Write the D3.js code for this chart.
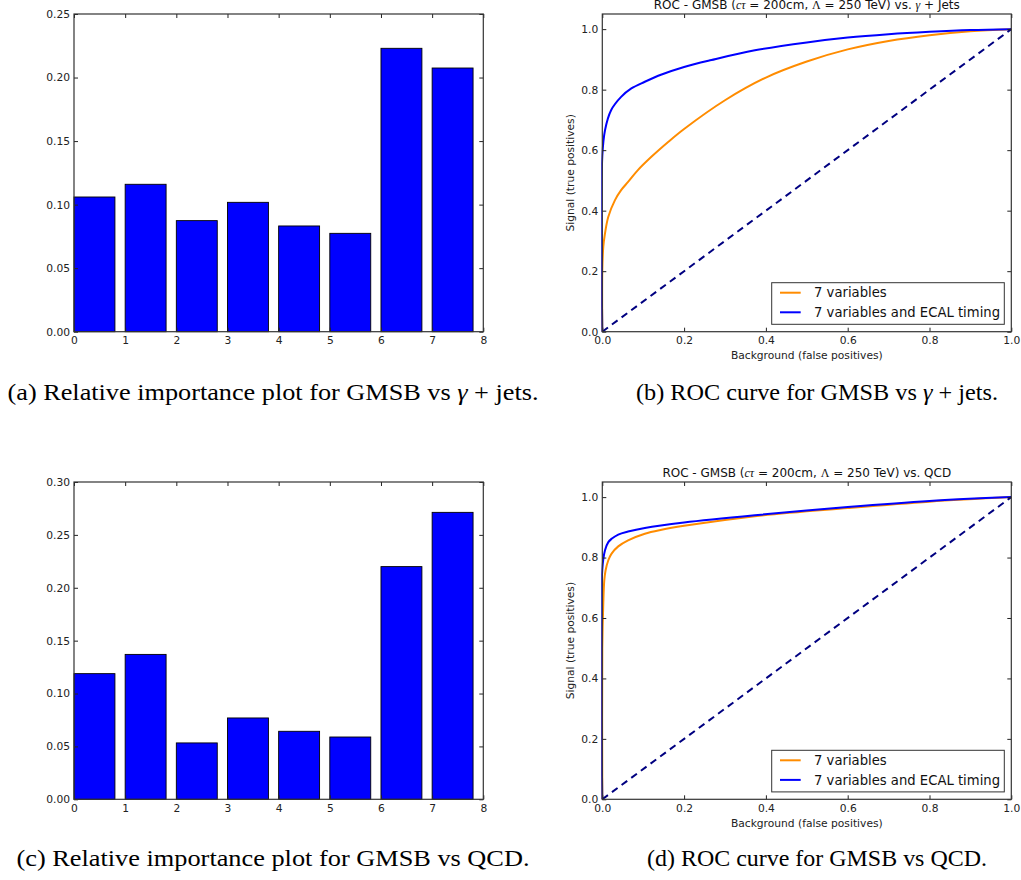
<!DOCTYPE html>
<html><head><meta charset="utf-8">
<script src="https://cdn.jsdelivr.net/npm/d3@7"></script>
<style>body{margin:0;background:#fff} svg{display:block}</style>
</head><body>
<script>
// ---------------- data ----------------
const barCategories = [0, 1, 2, 3, 4, 5, 6, 7];
const importanceGammaJets = [0.106, 0.116, 0.0874, 0.1018, 0.0832, 0.0774, 0.223, 0.2075];
const importanceQCD = [0.1188, 0.137, 0.0533, 0.0769, 0.0643, 0.0589, 0.220, 0.2713];
const barXTicks = [0, 1, 2, 3, 4, 5, 6, 7, 8];
const barYTicksA = [0, 0.05, 0.10, 0.15, 0.20, 0.25];
const barYTicksC = [0, 0.05, 0.10, 0.15, 0.20, 0.25, 0.30];
const rocTicks = [0, 0.2, 0.4, 0.6, 0.8, 1.0];

// ROC gamma + jets, 7 variables
const gjVarFpr = [0, 0, 0.0024, 0.0066, 0.0147, 0.031, 0.046, 0.063, 0.087, 0.12, 0.161, 0.2, 0.3, 0.4, 0.5, 0.6, 0.7, 0.8, 0.9, 1.0];
const gjVarTpr = [0, 0.2, 0.28, 0.325, 0.38, 0.435, 0.468, 0.495, 0.534, 0.578, 0.627, 0.67, 0.765, 0.84, 0.893, 0.933, 0.961, 0.98, 0.993, 1.0];
// ROC gamma + jets, 7 variables and ECAL timing
const gjTimFpr = [0, 0, 0.0066, 0.0215, 0.046, 0.071, 0.104, 0.145, 0.2, 0.267, 0.373, 0.5, 0.6, 0.7, 0.8, 0.9, 1.0];
const gjTimTpr = [0, 0.58, 0.666, 0.732, 0.776, 0.804, 0.826, 0.85, 0.875, 0.898, 0.93, 0.956, 0.972, 0.983, 0.991, 0.997, 1.0];
// ROC QCD, 7 variables
const qcdVarFpr = [0, 0, 0.0024, 0.0049, 0.0081, 0.0147, 0.0227, 0.039, 0.063, 0.104, 0.145, 0.2, 0.373, 0.6, 0.8, 1.0];
const qcdVarTpr = [0, 0.5, 0.648, 0.725, 0.758, 0.791, 0.813, 0.837, 0.857, 0.879, 0.892, 0.905, 0.937, 0.964, 0.985, 1.0];
// ROC QCD, 7 variables and ECAL timing
const qcdTimFpr = [0, 0, 0.0066, 0.0147, 0.0227, 0.039, 0.063, 0.104, 0.2, 0.373, 0.6, 0.8, 1.0];
const qcdTimTpr = [0, 0.76, 0.824, 0.851, 0.862, 0.876, 0.886, 0.898, 0.916, 0.94, 0.967, 0.987, 1.0];

const legendLabels = ["7 variables", "7 variables and ECAL timing"];
const seriesColors = ["#ff8c00", "#0000ff"];

// ---------------- drawing ----------------
const W = 1021, H = 880;
const svg = d3.select("body").append("svg").attr("width", W).attr("height", H);
const AX_FONT = '"DejaVu Sans", sans-serif';
const CAP_FONT = '"Liberation Serif", "Times New Roman", serif';

function frame(x, y, xt, yt, fx, fy) {
  const [x0, x1] = x.range(), [y0, y1] = y.range();
  const g = svg.append("g");
  const mk = (axis, tr) => {
    const a = g.append("g").attr("transform", tr).call(axis);
    a.select(".domain").remove();
    a.selectAll("text").attr("font-family", AX_FONT).attr("font-size", 10.7).attr("fill", "#222");
    a.selectAll("line").attr("stroke", "#222");
    return a;
  };
  mk(d3.axisBottom(x).tickValues(xt).tickFormat(fx).tickSizeInner(-4).tickSizeOuter(0).tickPadding(5), `translate(0,${y0})`);
  mk(d3.axisTop(x).tickValues(xt).tickFormat("").tickSizeInner(-4).tickSizeOuter(0), `translate(0,${y1})`);
  mk(d3.axisLeft(y).tickValues(yt).tickFormat(fy).tickSizeInner(-4).tickSizeOuter(0).tickPadding(4), `translate(${x0},0)`);
  mk(d3.axisRight(y).tickValues(yt).tickFormat("").tickSizeInner(-4).tickSizeOuter(0), `translate(${x1},0)`);
  g.append("rect").attr("x", x0).attr("y", y1).attr("width", x1 - x0).attr("height", y0 - y1)
    .attr("fill", "none").attr("stroke", "#333").attr("stroke-width", 1.2);
}

function barPanel(left, right, top, bottom, values, yMax, yTicks) {
  const x = d3.scaleLinear().domain([0, 8]).range([left, right]);
  const y = d3.scaleLinear().domain([0, yMax]).range([bottom, top]);
  svg.append("g").selectAll("rect").data(barCategories).join("rect")
    .attr("x", d => x(d)).attr("width", d => x(d + 0.8) - x(d))
    .attr("y", (d, i) => y(values[i])).attr("height", (d, i) => y(0) - y(values[i]))
    .attr("fill", "#0000ff").attr("stroke", "#000").attr("stroke-width", 0.9);
  frame(x, y, barXTicks, yTicks, d3.format("d"), d3.format(".2f"));
}

let clipId = 0;
function rocPanel(left, right, top, bottom, curves, titleParts, titleY) {
  const x = d3.scaleLinear().domain([0, 1]).range([left, right]);
  const y = d3.scaleLinear().domain([0, 1.05]).range([bottom, top]);
  const id = "clip" + (clipId++);
  svg.append("clipPath").attr("id", id).append("rect")
    .attr("x", left - 1).attr("y", top).attr("width", right - left + 1).attr("height", bottom - top + 1);
  const g = svg.append("g").attr("clip-path", `url(#${id})`);
  const line = d3.line().x(d => x(d[0])).y(d => y(d[1])).curve(d3.curveCatmullRom.alpha(0.5));
  curves.forEach((c, k) => {
    const pts = c.fpr.map((f, i) => [f, c.tpr[i]]);
    g.append("path").attr("d", line(pts)).attr("fill", "none")
      .attr("stroke", seriesColors[k]).attr("stroke-width", 2).attr("stroke-linejoin", "round");
  });
  g.append("path").attr("d", d3.line().x(d => x(d)).y(d => y(d))([0, 1]))
    .attr("fill", "none").attr("stroke", "#000080").attr("stroke-width", 2).attr("stroke-dasharray", "7,5");
  frame(x, y, rocTicks, rocTicks, d3.format(".1f"), d3.format(".1f"));

  // legend
  const lx1 = right - 7, lx0 = lx1 - 232.6, ly1 = bottom - 7.4, ly0 = ly1 - 41.6;
  const lg = svg.append("g");
  lg.append("rect").attr("x", lx0).attr("y", ly0).attr("width", lx1 - lx0).attr("height", ly1 - ly0)
    .attr("fill", "#fff").attr("stroke", "#333").attr("stroke-width", 1);
  legendLabels.forEach((t, k) => {
    const yy = ly0 + 10 + k * 19.6;
    lg.append("line").attr("x1", lx0 + 8.3).attr("x2", lx0 + 29).attr("y1", yy).attr("y2", yy)
      .attr("stroke", seriesColors[k]).attr("stroke-width", 2);
    lg.append("text").attr("x", lx0 + 42.3).attr("y", yy + 4.7).text(t)
      .attr("font-family", AX_FONT).attr("font-size", 13.2).attr("fill", "#111");
  });

  // axis labels
  svg.append("text").attr("x", (left + right) / 2).attr("y", bottom + 27.5).attr("text-anchor", "middle")
    .attr("font-family", AX_FONT).attr("font-size", 10.7).attr("fill", "#222").text("Background (false positives)");
  svg.append("text").attr("transform", `translate(${left - 28},${(top + bottom) / 2}) rotate(-90)`)
    .attr("text-anchor", "middle").attr("font-family", AX_FONT).attr("font-size", 10.7).attr("fill", "#222")
    .text("Signal (true positives)");

  // title
  const tt = svg.append("text").attr("x", (left + right) / 2).attr("y", titleY).attr("text-anchor", "middle")
    .attr("font-family", AX_FONT).attr("font-size", 12).attr("fill", "#111");
  titleParts.forEach(p => {
    const s = tt.append("tspan").text(p.t);
    if (p.math) s.attr("font-family", CAP_FONT).attr("font-style", p.italic ? "italic" : "normal");
  });
}

function caption(cx, y, width, parts) {
  const t = svg.append("text").attr("x", cx).attr("y", y).attr("text-anchor", "middle")
    .attr("font-family", CAP_FONT).attr("font-size", 24).attr("fill", "#000")
    .attr("textLength", width).attr("lengthAdjust", "spacingAndGlyphs");
  parts.forEach(p => {
    const s = t.append("tspan").text(p.t);
    if (p.italic) s.attr("font-style", "italic");
  });
}

// panels
barPanel(74, 483.3, 14, 331.7, importanceGammaJets, 0.25, barYTicksA);
rocPanel(602.3, 1011.3, 14, 331.7, [
  { fpr: gjVarFpr, tpr: gjVarTpr },
  { fpr: gjTimFpr, tpr: gjTimTpr }
], [
  { t: "ROC - GMSB (" }, { t: "cτ", math: true, italic: true }, { t: " = 200cm, " },
  { t: "Λ", math: true }, { t: " = 250 TeV) vs. " }, { t: "γ", math: true, italic: true }, { t: " + Jets" }
], 9);
barPanel(74, 483.3, 482, 799.3, importanceQCD, 0.30, barYTicksC);
rocPanel(602.3, 1011.3, 482, 799.3, [
  { fpr: qcdVarFpr, tpr: qcdVarTpr },
  { fpr: qcdTimFpr, tpr: qcdTimTpr }
], [
  { t: "ROC - GMSB (" }, { t: "cτ", math: true, italic: true }, { t: " = 200cm, " },
  { t: "Λ", math: true }, { t: " = 250 TeV) vs. QCD" }
], 476.5);

// captions
caption(273, 400, 531, [{ t: "(a) Relative importance plot for GMSB vs " }, { t: "γ", italic: true }, { t: " + jets." }]);
caption(817, 400, 362, [{ t: "(b) ROC curve for GMSB vs " }, { t: "γ", italic: true }, { t: " + jets." }]);
caption(273, 866, 513, [{ t: "(c) Relative importance plot for GMSB vs QCD." }]);
caption(817, 866, 340, [{ t: "(d) ROC curve for GMSB vs QCD." }]);
</script>
</body></html>
